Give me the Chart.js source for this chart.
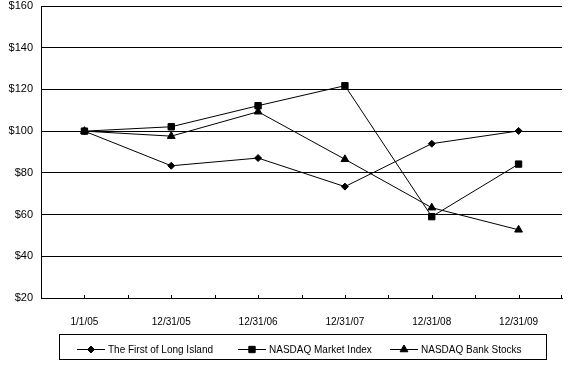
<!DOCTYPE html>
<html>
<head>
<meta charset="utf-8">
<script src="https://cdn.jsdelivr.net/npm/chart.js@4/dist/chart.umd.min.js"></script>
<style>
html,body{margin:0;padding:0;background:#fff;}
#wrap{width:568px;height:374px;position:relative;}
</style>
</head>
<body>
<div id="wrap"><canvas id="c" width="568" height="374"></canvas></div>
<script>
const categories = ["1/1/05", "12/31/05", "12/31/06", "12/31/07", "12/31/08", "12/31/09"];
const firstLongIsland = [100, 83.4, 87.1, 73.4, 94.0, 100.1];
const nasdaqMarket = [100, 102.1, 112.2, 121.8, 59.0, 84.2];
const nasdaqBank = [100, 97.6, 109.3, 86.5, 63.3, 52.7];
const seriesNames = ["The First of Long Island", "NASDAQ Market Index", "NASDAQ Bank Stocks"];
const yTicks = [20, 40, 60, 80, 100, 120, 140, 160];

const FONT = "'Liberation Sans', Arial, sans-serif";

const insideTicks = {
  id: 'insideTicks',
  afterDraw(chart) {
    const ctx = chart.ctx;
    const xs = chart.scales.x;
    const bottom = chart.chartArea.bottom;
    const half = (xs.getPixelForValue(1) - xs.getPixelForValue(0)) / 2;
    ctx.save();
    ctx.strokeStyle = '#000';
    ctx.lineWidth = 1;
    ctx.beginPath();
    for (let i = 0; i < categories.length; i++) {
      const p = Math.round(xs.getPixelForValue(i)) + 0.5;
      ctx.moveTo(p, bottom); ctx.lineTo(p, bottom - 3);
      const b = Math.round(xs.getPixelForValue(i) - half) + 0.5;
      ctx.moveTo(b, bottom); ctx.lineTo(b, bottom - 3);
    }
    const e = Math.round(xs.getPixelForValue(categories.length - 1) + half) - 0.5;
    ctx.moveTo(e, bottom); ctx.lineTo(e, bottom - 3);
    ctx.stroke();
    ctx.restore();
  }
};

const boxLegend = {
  id: 'boxLegend',
  afterDraw(chart) {
    const ctx = chart.ctx;
    ctx.save();
    ctx.strokeStyle = '#000';
    ctx.lineWidth = 1;
    ctx.strokeRect(59.5, 334.5, 487, 25);
    const starts = [77, 238, 390];
    const cy = 349;
    chart.data.datasets.forEach((ds, i) => {
      const x1 = starts[i];
      ctx.beginPath();
      ctx.moveTo(x1, cy + 0.5); ctx.lineTo(x1 + 28, cy + 0.5);
      ctx.strokeStyle = '#000'; ctx.lineWidth = 1; ctx.stroke();
      ctx.fillStyle = '#000';
      Chart.helpers.drawPoint(ctx, {pointStyle: ds.pointStyle, rotation: 0, radius: ds.pointRadius, borderWidth: 1}, x1 + 14, cy + 0.5);
      ctx.font = '10px ' + FONT;
      ctx.textBaseline = 'middle';
      ctx.textAlign = 'left';
      ctx.fillStyle = '#000';
      ctx.fillText(ds.label, x1 + 31, cy + 1);
    });
    ctx.restore();
  }
};

const ds = (label, data, style, r) => ({
  label, data,
  borderColor: '#000', backgroundColor: '#000', borderWidth: 1,
  pointStyle: style, pointRadius: r, pointHoverRadius: r,
  pointBackgroundColor: '#000', pointBorderColor: '#000', pointBorderWidth: 1,
  tension: 0, fill: false
});

new Chart(document.getElementById('c'), {
  type: 'line',
  data: {
    labels: categories,
    datasets: [
      ds(seriesNames[0], firstLongIsland, 'rectRot', 3.5),
      ds(seriesNames[1], nasdaqMarket, 'rect', 4.5),
      ds(seriesNames[2], nasdaqBank, 'triangle', 4.5)
    ]
  },
  options: {
    responsive: false,
    animation: false,
    devicePixelRatio: 1,
    layout: { padding: { top: 6, right: 6, bottom: 28, left: 0 } },
    plugins: { legend: { display: false }, tooltip: { enabled: false } },
    scales: {
      x: {
        type: 'category',
        offset: true,
        grid: { display: false, drawTicks: false },
        border: { display: true, color: '#000', width: 1 },
        ticks: { color: '#000', font: { family: FONT, size: 10 }, padding: 18, maxRotation: 0, autoSkip: false },
        afterFit(s) { s.paddingLeft = 0; s.paddingRight = 0; }
      },
      y: {
        min: 20, max: 160,
        afterBuildTicks(s) { s.ticks = yTicks.map(v => ({ value: v })); },
        grid: { color: '#000', lineWidth: 1, drawTicks: false },
        border: { display: true, color: '#000', width: 1 },
        ticks: { color: '#000', font: { family: FONT, size: 11 }, padding: 8, callback: v => '$' + v },
        afterFit(s) { s.width = 41; s.paddingTop = 0; s.paddingBottom = 0; }
      }
    }
  },
  plugins: [insideTicks, boxLegend]
});
</script>
</body>
</html>
